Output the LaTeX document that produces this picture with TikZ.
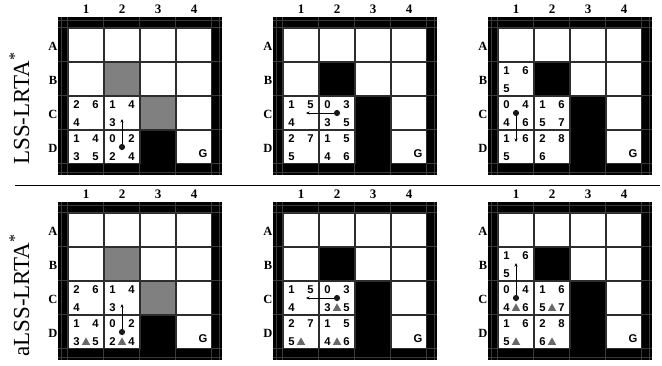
\documentclass[tikz,border=0pt]{standalone}
\usepackage{fontspec}
\setmainfont{Liberation Serif}
\newfontfamily\numfont{Liberation Sans}
\usetikzlibrary{arrows.meta}
\definecolor{obsg}{RGB}{128,128,128}
\definecolor{trig}{RGB}{105,105,105}
\definecolor{gridc}{RGB}{45,45,45}
\definecolor{blinec}{RGB}{58,58,58}
\tikzset{
  num/.style={font=\numfont\bfseries\fontsize{11.3}{13}\selectfont, inner sep=0pt},
  collab/.style={font=\bfseries\fontsize{13}{14}\selectfont, inner sep=0pt},
  rowlab/.style={font=\bfseries\fontsize{12.5}{14}\selectfont, inner sep=0pt, anchor=east},
  bline/.style={draw=blinec, line width=0.7pt},
  arr/.style={draw=black, line width=0.8pt, -{Stealth[length=3.5pt,width=3pt]}},
  sidelab/.style={rotate=90, anchor=base west, inner sep=0pt, font=\fontsize{23}{26}\selectfont}
}
\newcommand{\cn}[5]{\node[num] at ({10.5+36*#1+#3},{11.5+34*#2+#4}) {#5};}
\newcommand{\cnTL}[3]{\cn{#1}{#2}{8}{8}{#3}}
\newcommand{\cnTR}[3]{\cn{#1}{#2}{27}{8}{#3}}
\newcommand{\cnBL}[3]{\cn{#1}{#2}{8}{25.7}{#3}}
\newcommand{\cnBR}[3]{\cn{#1}{#2}{27}{25.7}{#3}}
\newcommand{\cnTri}[2]{\fill[trig] ({10.5+36*#1+17.5},{11.5+34*#2+25.7}) ++(-4.2,3.6) -- ++(8.4,0) -- ++(-4.2,-7.4) -- cycle;}
\newcommand{\cnArrow}[4]{%
  \coordinate (dotpos) at ({10.5+36*#1+17.5},{11.5+34*#2+16.5});
  \draw[arr] (dotpos) -- ++(#3,#4);
  \fill[black!90] (dotpos) circle (3.1);}
\newcommand{\gpanel}[4]{%
  \begin{scope}[shift={(#1,#2)}]
    \fill[black] (0,0) rectangle (164,158);
    \foreach \xx in {3,9.5,45.5,81.5,117.5,153.5,161} {\draw[bline] (\xx,0) -- (\xx,158);}
    \foreach \yy in {3,10.5,44.5,78.5,112.5,146.5,155} {\draw[bline] (0,\yy) -- (164,\yy);}
    \fill[gridc] (9.5,10.5) rectangle (153.5,146.5);
    \foreach \c in {0,...,3} {\foreach \r in {0,...,3} {\fill[white] ({10.5+36*\c},{11.5+34*\r}) rectangle ++(34,32);}}
    \ifnum#3=1
      \fill[obsg] (46.5,45.5) rectangle ++(34,32);
      \fill[obsg] (82.5,79.5) rectangle ++(34,32);
      \fill[black] (82.5,113.5) rectangle ++(34,33);
    \else
      \fill[black] (46.5,45.5) rectangle ++(34,32);
      \fill[black] (82.5,79.5) rectangle ++(34,67);
    \fi
    \foreach \c/\t in {0/1,1/2,2/3,3/4} {\node[collab] at ({10.5+36*\c+17.5},-8) {\t};}
    \foreach \r/\t in {0/A,1/B,2/C,3/D} {\node[rowlab] at (-0.5,{11.5+34*\r+17.5}) {\t};}
    \node[num] at ({10.5+36*3+26.5},{11.5+34*3+23.5}) {G};
    #4
  \end{scope}}
\begin{document}
\begin{tikzpicture}[x=1pt,y=-1pt]
\useasboundingbox (0,0) rectangle (662,365);
\fill[white] (0,0) rectangle (662,365);
\node[sidelab] (lab1) at (29,165) {LSS-LRTA\textsuperscript{*}};
\node[sidelab] (lab2) at (29,357) {aLSS-LRTA\textsuperscript{*}};
\draw[line width=1pt] (15,185.7) -- (660,185.7);
% Panel 1
\gpanel{58}{17}{1}{%
  \cnTL{0}{2}{2}\cnTR{0}{2}{6}\cnBL{0}{2}{4}
  \cnTL{1}{2}{1}\cnTR{1}{2}{4}\cnBL{1}{2}{3}
  \cnTL{0}{3}{1}\cnTR{0}{3}{4}\cnBL{0}{3}{3}\cnBR{0}{3}{5}
  \cnTL{1}{3}{0}\cnTR{1}{3}{2}\cnBL{1}{3}{2}\cnBR{1}{3}{4}
  \cnArrow{1}{3}{0}{-28}}
% Panel 2
\gpanel{273}{17}{0}{%
  \cnTL{0}{2}{1}\cnTR{0}{2}{5}\cnBL{0}{2}{4}
  \cnTL{1}{2}{0}\cnTR{1}{2}{3}\cnBL{1}{2}{3}\cnBR{1}{2}{5}
  \cnTL{0}{3}{2}\cnTR{0}{3}{7}\cnBL{0}{3}{5}
  \cnTL{1}{3}{1}\cnTR{1}{3}{5}\cnBL{1}{3}{4}\cnBR{1}{3}{6}
  \cnArrow{1}{2}{-31}{0}}
% Panel 3
\gpanel{488}{17}{0}{%
  \cnTL{0}{1}{1}\cnTR{0}{1}{6}\cnBL{0}{1}{5}
  \cnTL{0}{2}{0}\cnTR{0}{2}{4}\cnBL{0}{2}{4}\cnBR{0}{2}{6}
  \cnTL{1}{2}{1}\cnTR{1}{2}{6}\cnBL{1}{2}{5}\cnBR{1}{2}{7}
  \cnTL{0}{3}{1}\cnTR{0}{3}{6}\cnBL{0}{3}{5}
  \cnTL{1}{3}{2}\cnTR{1}{3}{8}\cnBL{1}{3}{6}
  \cnArrow{0}{2}{0}{29}}
% Panel 4
\gpanel{58}{202}{1}{%
  \cnTL{0}{2}{2}\cnTR{0}{2}{6}\cnBL{0}{2}{4}
  \cnTL{1}{2}{1}\cnTR{1}{2}{4}\cnBL{1}{2}{3}
  \cnTL{0}{3}{1}\cnTR{0}{3}{4}\cnBL{0}{3}{3}\cnBR{0}{3}{5}\cnTri{0}{3}
  \cnTL{1}{3}{0}\cnTR{1}{3}{2}\cnBL{1}{3}{2}\cnBR{1}{3}{4}\cnTri{1}{3}
  \cnArrow{1}{3}{0}{-28}}
% Panel 5
\gpanel{273}{202}{0}{%
  \cnTL{0}{2}{1}\cnTR{0}{2}{5}\cnBL{0}{2}{4}
  \cnTL{1}{2}{0}\cnTR{1}{2}{3}\cnBL{1}{2}{3}\cnBR{1}{2}{5}\cnTri{1}{2}
  \cnTL{0}{3}{2}\cnTR{0}{3}{7}\cnBL{0}{3}{5}\cnTri{0}{3}
  \cnTL{1}{3}{1}\cnTR{1}{3}{5}\cnBL{1}{3}{4}\cnBR{1}{3}{6}\cnTri{1}{3}
  \cnArrow{1}{2}{-31}{0}}
% Panel 6
\gpanel{488}{202}{0}{%
  \cnTL{0}{1}{1}\cnTR{0}{1}{6}\cnBL{0}{1}{5}
  \cnTL{0}{2}{0}\cnTR{0}{2}{4}\cnBL{0}{2}{4}\cnBR{0}{2}{6}\cnTri{0}{2}
  \cnTL{1}{2}{1}\cnTR{1}{2}{6}\cnBL{1}{2}{5}\cnBR{1}{2}{7}\cnTri{1}{2}
  \cnTL{0}{3}{1}\cnTR{0}{3}{6}\cnBL{0}{3}{5}\cnTri{0}{3}
  \cnTL{1}{3}{2}\cnTR{1}{3}{8}\cnBL{1}{3}{6}\cnTri{1}{3}
  \cnArrow{0}{2}{0}{-35}}
\end{tikzpicture}
\end{document}
